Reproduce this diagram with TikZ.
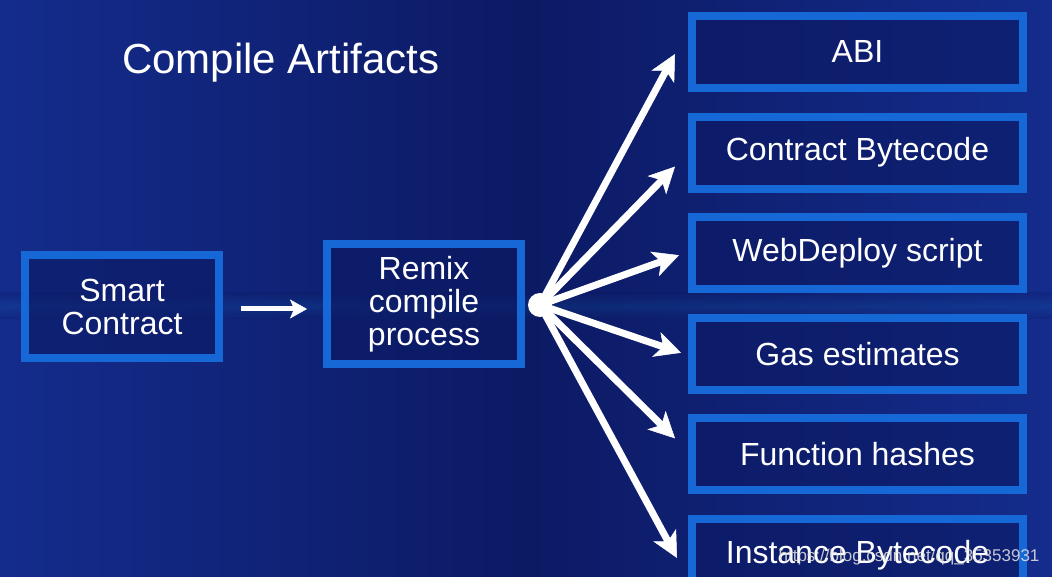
\documentclass[tikz,border=0pt]{standalone}
\usepackage{fontspec}
\setmainfont{Liberation Sans}
\usetikzlibrary{arrows.meta, positioning}

\definecolor{bgblue}{RGB}{20,44,140}
\definecolor{bgdark}{RGB}{12,26,100}
\definecolor{boxblue}{RGB}{22,104,214}

\begin{document}
\begin{tikzpicture}[x=1pt,y=1pt,node distance=100.6pt,on grid,
    >={Stealth[length=26pt,width=26pt,inset=7pt,line width=0.5pt]},
    box/.style={draw=boxblue,line width=8pt,fill=bgdark,fill opacity=0.6,text opacity=1,text=white,
      font=\fontsize{32}{33}\selectfont,align=center,inner sep=0pt},
    artifact/.style={box,minimum width=331pt,minimum height=72pt},
    fan/.style={white,line width=7pt},
    small arrow/.style={-{Stealth[length=17pt,width=19pt,inset=4pt,line width=0.5pt]},white,line width=5pt}]

  \useasboundingbox (0,0) rectangle (1052,577);
  \clip (0,0) rectangle (1052,577);
  % background
  \shade[left color=bgblue, right color=bgblue, middle color=bgdark] (0,0) rectangle (1052,577);
  \shade[top color=bgdark, bottom color=bgdark, middle color=bgblue!80!cyan, opacity=0.25] (0,258) rectangle (1052,284);

  \node[text=white,font=\fontsize{42}{44}\selectfont] (title) at (281,514) {Compile Artifacts};

  \node[box,minimum width=194pt,minimum height=103pt] (smart) at (122,270) {Smart\\Contract};
  \node[box,minimum width=194pt,minimum height=120pt] (remix) at (424,273) {Remix\\compile\\process};

  \node[artifact] (abi)      at (857.5,525)  {ABI};
  \node[artifact] (bytecode) [below=of abi]      {Contract Bytecode};
  \node[artifact] (deploy)   [below=of bytecode] {WebDeploy script};
  \node[artifact] (gas)      [below=of deploy]   {Gas estimates};
  \node[artifact] (hashes)   [below=of gas]      {Function hashes};
  \node[artifact] (instance) [below=of hashes]   {Instance Bytecode};

  \node[circle,fill=white,minimum size=24pt,inner sep=0pt] (hub) at (540,272) {};

  \draw[small arrow] ([xshift=18pt,yshift=-2pt]smart.east) -- ([xshift=-16pt,yshift=-2pt]smart.east -| remix.west);

  \path[fan,->] (hub.center) edge ([xshift=-13pt,yshift=-2pt]abi.west)
                             edge ([xshift=-13pt,yshift=-14pt]bytecode.west)
                             edge ([xshift=-9pt,yshift=-2pt]deploy.west)
                             edge ([xshift=-7pt,yshift=1pt]gas.west)
                             edge ([xshift=-13pt,yshift=16pt]hashes.west)
                             edge ([xshift=-11pt,yshift=-3pt]instance.west);

  \node[text=white!80!gray,opacity=0.85,font=\fontsize{17}{17}\selectfont,anchor=east] (mark) at (1043,20) {https://blog.csdn.net/qq\_35353931};
\end{tikzpicture}
\end{document}
